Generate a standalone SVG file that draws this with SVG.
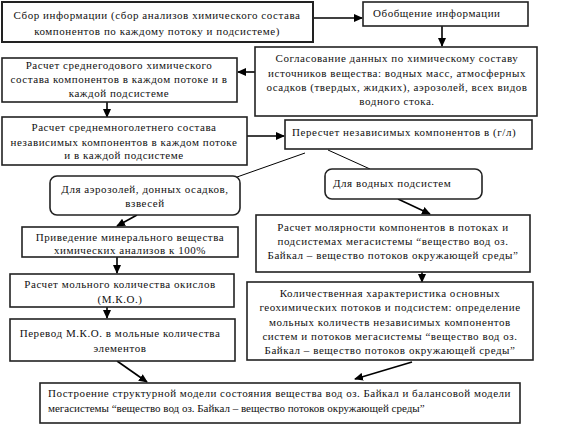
<svg xmlns="http://www.w3.org/2000/svg" width="588" height="444" viewBox="0 0 588 444">
<defs>
<marker id="ah" markerWidth="9" markerHeight="9" refX="8" refY="4.5" orient="auto" markerUnits="userSpaceOnUse">
<path d="M0,0.5 L9,4.5 L0,8.5 Z" fill="#000"/>
</marker>
<style>
.b{fill:#fff;stroke:#222;stroke-width:1.6}
.t{font-family:"Liberation Serif","Times New Roman",serif;font-size:11px;letter-spacing:0.55px;fill:#111}
.c{text-anchor:middle}
.ea{stroke:#000;stroke-width:1.6;fill:none;marker-end:url(#ah)}
.l{stroke:#000;stroke-width:1;fill:none}
</style>
</defs>
<rect width="588" height="444" fill="#fff"/>
<g id="connectors">
<line class="ea" x1="313" y1="18" x2="362" y2="18"/>
<line class="ea" x1="442" y1="26" x2="442" y2="46"/>
<line class="ea" x1="255" y1="72" x2="238" y2="72"/>
<line class="ea" x1="107" y1="102" x2="107" y2="117"/>
<line class="ea" x1="247" y1="136" x2="284" y2="136"/>
<line class="l" x1="305" y1="153" x2="237" y2="177"/>
<line class="l" x1="328" y1="150" x2="370" y2="169"/>
<line class="ea" x1="137" y1="215" x2="117" y2="226"/>
<line class="ea" x1="398" y1="199" x2="430" y2="214"/>
<line class="ea" x1="422" y1="272" x2="422" y2="282"/>
<line class="ea" x1="117" y1="257" x2="117" y2="273"/>
<line class="ea" x1="107" y1="307" x2="107" y2="318"/>
<line class="ea" x1="117" y1="361" x2="147" y2="382"/>
<line class="ea" x1="412" y1="362" x2="355" y2="379"/>
</g>
<g id="n1">
<rect class="b" x="2" y="2" width="311" height="40" style="stroke-width:2"/>
<text class="t c" x="157" y="19">Сбор информации (сбор анализов химического состава</text>
<text class="t c" x="157" y="35">компонентов по каждому потоку и подсистеме)</text>
</g>
<g id="n2">
<rect class="b" x="363" y="2" width="165" height="24"/>
<text class="t" x="373" y="17">Обобщение информации</text>
</g>
<g id="n3">
<rect class="b" x="255" y="47" width="282" height="69"/>
<text class="t c" x="397" y="62">Согласование данных по химическому составу</text>
<text class="t c" x="397" y="77">источников вещества: водных масс, атмосферных</text>
<text class="t c" x="397" y="91">осадков (твердых, жидких), аэрозолей, всех видов</text>
<text class="t c" x="397" y="105">водного стока.</text>
</g>
<g id="n4">
<rect class="b" x="2" y="58" width="235" height="44"/>
<text class="t c" x="119" y="69">Расчет среднегодового химического</text>
<text class="t c" x="119" y="83">состава компонентов в каждом потоке и в</text>
<text class="t c" x="119" y="97">каждой подсистеме</text>
</g>
<g id="n5">
<rect class="b" x="2" y="117" width="245" height="48"/>
<text class="t c" x="124" y="131">Расчет среднемноголетнего состава</text>
<text class="t c" x="124" y="146">независимых компонентов в каждом потоке</text>
<text class="t c" x="124" y="159">и в каждой подсистеме</text>
</g>
<g id="n6">
<rect class="b" x="285" y="120" width="247" height="29"/>
<text class="t" x="292" y="136">Пересчет независимых компонентов в (г/л)</text>
</g>
<g id="n7">
<rect class="b" x="50" y="176" width="190" height="39" rx="7"/>
<text class="t c" x="145" y="193">Для аэрозолей, донных осадков,</text>
<text class="t c" x="145" y="207">взвесей</text>
</g>
<g id="n8">
<rect class="b" x="325" y="169" width="157" height="30" rx="7"/>
<text class="t" x="333" y="187">Для водных подсистем</text>
</g>
<g id="n9">
<rect class="b" x="256" y="215" width="274" height="57"/>
<text class="t c" x="393" y="231">Расчет молярности компонентов в потоках и</text>
<text class="t c" x="393" y="245">подсистемах мегасистемы “вещество вод оз.</text>
<text class="t c" x="393" y="259">Байкал – вещество потоков окружающей среды”</text>
</g>
<g id="n10">
<rect class="b" x="247" y="282" width="286" height="78"/>
<text class="t c" x="390" y="297">Количественная характеристика основных</text>
<text class="t c" x="390" y="311">геохимических потоков и подсистем: определение</text>
<text class="t c" x="390" y="326">мольных количеств независимых компонентов</text>
<text class="t c" x="390" y="340">систем и потоков мегасистемы “вещество вод оз.</text>
<text class="t c" x="390" y="354">Байкал – вещество потоков окружающей среды”</text>
</g>
<g id="n11">
<rect class="b" x="22" y="227" width="216" height="30"/>
<text class="t c" x="130" y="241">Приведение минерального вещества</text>
<text class="t c" x="130" y="254">химических анализов к 100%</text>
</g>
<g id="n12">
<rect class="b" x="10" y="274" width="224" height="33"/>
<text class="t c" x="120" y="288">Расчет мольного количества окислов</text>
<text class="t c" x="120" y="303">(М.К.О.)</text>
</g>
<g id="n13">
<rect class="b" x="10" y="319" width="225" height="42"/>
<text class="t c" x="120" y="337">Перевод М.К.О. в мольные количества</text>
<text class="t c" x="120" y="352">элементов</text>
</g>
<g id="n14">
<rect class="b" x="40" y="383" width="480" height="40"/>
<text class="t" x="48" y="397" textLength="463" lengthAdjust="spacing">Построение структурной модели состояния вещества вод оз. Байкал и балансовой модели</text>
<text class="t" x="48" y="412" style="letter-spacing:0">мегасистемы “вещество вод оз. Байкал – вещество потоков окружающей среды”</text>
</g>
</svg>
